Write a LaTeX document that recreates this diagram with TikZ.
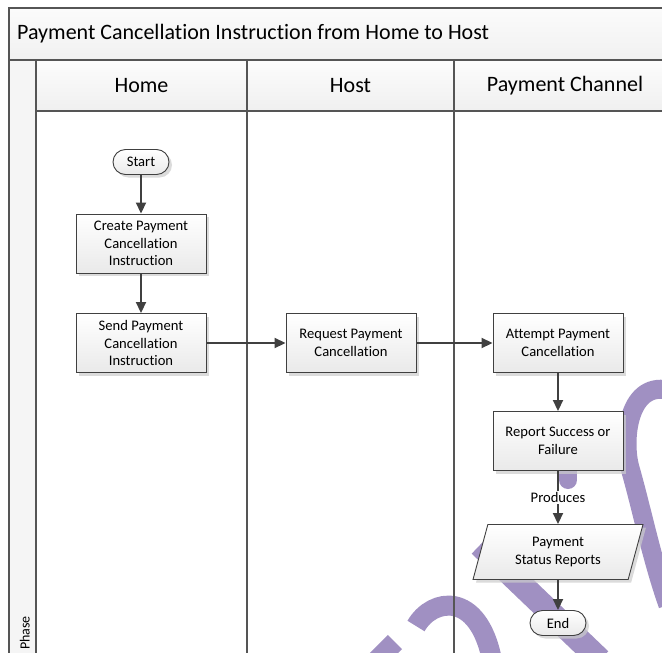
\documentclass[tikz,border=0pt]{standalone}
\usepackage{fontspec}
\setmainfont[Ligatures=NoCommon]{Carlito}
\usetikzlibrary{shapes.geometric, shapes.misc, arrows.meta, positioning, shadows}

\definecolor{linegray}{HTML}{404040}
\definecolor{framegray}{HTML}{555555}
\definecolor{wmark}{RGB}{160,144,194}

\begin{document}
\begin{tikzpicture}[
  x=1pt, y=-1pt,
  font=\fontsize{14.6}{17.4}\selectfont,
  proc/.style={
    draw=linegray, line width=0.9pt,
    top color=white, bottom color=gray!17,
    minimum width=130pt, minimum height=59pt,
    align=center, inner sep=2pt,
    drop shadow={shadow xshift=3pt, shadow yshift=-3pt, fill=gray!40, opacity=0.7}
  },
  term/.style={proc, rounded rectangle, minimum width=60pt, minimum height=25pt},
  data/.style={
    proc, trapezium, trapezium left angle=74, trapezium right angle=106,
    trapezium stretches=true, minimum width=170pt, minimum height=55pt
  },
  arr/.style={draw=linegray, line width=1.8pt, -{Triangle[length=11pt,width=10pt]}},
  lane/.style={draw=framegray, line width=1.4pt},
  wm/.style={draw=wmark, line width=20pt},
  hdr/.style={font=\fontsize{22}{26}\selectfont},
]
\clip (0,0) rectangle (662,653);
\fill[white] (0,0) rectangle (662,653);

%% Bands — title, lane headers, phase column
\fill[top color=gray!3, bottom color=gray!11] (9,8) rectangle (680,60);
\fill[top color=gray!2, bottom color=gray!12] (36,60) rectangle (680,111);
\fill[gray!8] (9,60) rectangle (36,680);

%% Watermark strokes (drawn under the lanes)
\draw[wm] (416,626) .. controls (432,598) and (478,590) .. (492,660);
\draw[wm] (395,642) -- (372,665);
\draw[wm, line width=24pt] (480,545) -- (600,660);
\draw[wm, line width=18pt, line cap=round] (568,440) -- (568,480);
\draw[wm, line width=19pt] (672,391) .. controls (628,378) and (622,440) .. (630,468)
  .. controls (642,510) and (652,560) .. (668,605);

%% Frame and lane dividers
\draw[lane] (9,680) -- (9,8) -- (680,8);
\draw[lane] (9,60) -- (680,60);
\draw[lane] (36,60) -- (36,680);
\draw[lane] (36,111) -- (680,111);
\draw[lane] (247,60) -- (247,680);
\draw[lane] (454,60) -- (454,680);

%% Titles
\node[hdr, anchor=west, inner sep=0pt] (title) at (17,34)
    {Payment Cancellation Instruction from Home to Host};
\node[hdr] (hhome) at (141.5,86) {Home};
\node[hdr] (hhost) at (350.5,86) {Host};
\node[hdr] (hchan) at (565,86) {Payment Channel};
\node[rotate=90, anchor=base west, inner sep=0pt,
      font=\fontsize{14}{16}\selectfont] (phase) at (29.5,650) {Phase};

%% Home lane
\node[term] (start)  at (141,162)   {Start};
\node[proc] (create) at (141,243.5) {Create Payment\\Cancellation\\Instruction};
\node[proc] (send)   at (141,343)   {Send Payment\\Cancellation\\Instruction};

%% Host lane
\node[proc] (request) at (351,343) {Request Payment\\Cancellation};

%% Payment Channel lane
\node[proc] (attempt) at (558,343) {Attempt Payment\\Cancellation};
\node[proc] (report)  at (558,441) {Report Success or\\Failure};
\node[data] (status)  at (558,552) {Payment\\Status Reports};
\node[term] (stop)    at (558,623) {End};

%% Arrows
\draw[arr] (start)   -- (create);
\draw[arr] (create)  -- (send);
\draw[arr] (send)    -- (request);
\draw[arr] (request) -- (attempt);
\draw[arr] (attempt) -- (report);
\draw[arr] (report)  -- node[fill=white, inner sep=1pt] (produces) {Produces} (status);
\draw[arr] (status)  -- (stop);
\end{tikzpicture}
\end{document}
